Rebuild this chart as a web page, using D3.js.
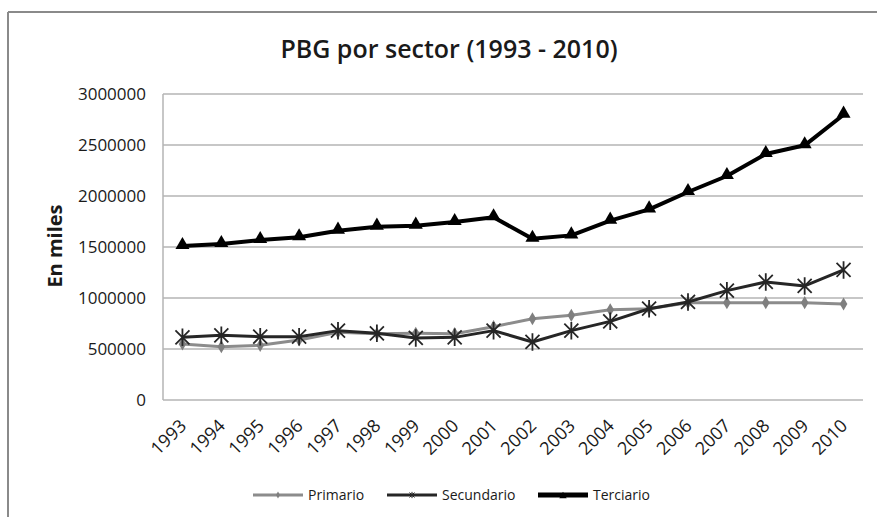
<!DOCTYPE html>
<html>
<head>
<meta charset="utf-8">
<script src="https://cdn.jsdelivr.net/npm/d3@7"></script>
<style>
  html, body { margin: 0; padding: 0; background: #fff; }
  svg { display: block; }
  text { font-family: "Open Sans", "Noto Sans", sans-serif; fill: #1a1a1a; }
</style>
</head>
<body>
<svg id="chart" width="877" height="517"></svg>
<script>
const years = ["1993","1994","1995","1996","1997","1998","1999","2000","2001","2002","2003","2004","2005","2006","2007","2008","2009","2010"];
const primario   = [549000, 523000, 536000, 588000, 665000, 650000, 654000, 650000, 719000, 797000, 830000, 885000, 895000, 954000, 954000, 954000, 954000, 941000];
const secundario = [614000, 634000, 621000, 621000, 680000, 654000, 608000, 614000, 680000, 569000, 680000, 771000, 895000, 961000, 1072000, 1157000, 1118000, 1275000];
const terciario  = [1510000, 1529000, 1568000, 1595000, 1660000, 1699000, 1709000, 1745000, 1791000, 1581000, 1614000, 1758000, 1869000, 2039000, 2196000, 2412000, 2497000, 2797000];
const yTicks = [0, 500000, 1000000, 1500000, 2000000, 2500000, 3000000];
const seriesNames = ["Primario", "Secundario", "Terciario"];
const title = "PBG por sector (1993 - 2010)";
const yTitle = "En miles";

const svg = d3.select("#chart");

// outer frame (top and left edges visible)
svg.append("line").attr("x1", 8).attr("x2", 877).attr("y1", 12).attr("y2", 12)
  .attr("stroke", "#8a8a8a").attr("stroke-width", 2);
svg.append("line").attr("x1", 8).attr("x2", 8).attr("y1", 12).attr("y2", 517)
  .attr("stroke", "#8a8a8a").attr("stroke-width", 2);

const pLeft = 163, pRight = 863, pTop = 94, pBottom = 400;
const x = d3.scaleBand().domain(years).range([pLeft, pRight]).padding(0);
const y = d3.scaleLinear().domain([0, 3000000]).range([pBottom, pTop]);
const cx = d => x(d) + x.bandwidth() / 2;

// gridlines
svg.append("g").selectAll("line").data(yTicks).join("line")
  .attr("x1", pLeft).attr("x2", pRight)
  .attr("y1", d => y(d)).attr("y2", d => y(d))
  .attr("stroke", "#b4b4b4").attr("stroke-width", 1.5);

// y axis line
svg.append("line").attr("x1", pLeft).attr("x2", pLeft).attr("y1", pTop).attr("y2", pBottom)
  .attr("stroke", "#b4b4b4").attr("stroke-width", 1.5);

// y axis labels
const yAxis = d3.axisLeft(y).tickValues(yTicks).tickSize(0).tickPadding(17).tickFormat(d3.format("d"));
const ya = svg.append("g").attr("transform", `translate(${pLeft},0)`).call(yAxis);
ya.select(".domain").remove();
ya.selectAll("text").attr("font-size", 17).attr("font-family", "Open Sans").attr("fill", "#1a1a1a");

// x axis labels
const xAxis = d3.axisBottom(x).tickSize(0).tickPadding(0);
const xa = svg.append("g").attr("transform", `translate(0,${pBottom})`).call(xAxis);
xa.select(".domain").remove();
xa.selectAll("text")
  .attr("font-size", 18).attr("font-family", "Open Sans").attr("fill", "#1a1a1a")
  .attr("text-anchor", "end")
  .attr("dy", "0")
  .attr("y", 0)
  .attr("transform", "translate(5,27) rotate(-45)");

// title
svg.append("text").attr("x", 449).attr("y", 58).attr("text-anchor", "middle")
  .attr("font-size", 25).attr("font-weight", 600).text(title);

// y title
svg.append("text").attr("transform", "translate(62,246) rotate(-90)")
  .attr("text-anchor", "middle").attr("font-size", 20).attr("font-weight", 700).text(yTitle);

const line = d3.line().x((d, i) => cx(years[i])).y(d => y(d));

const starPath = r => `M${-r},${-r}L${r},${r}M${-r},${r}L${r},${-r}M0,${-r * 1.25}L0,${r * 1.25}`;

// Primario
svg.append("path").datum(primario).attr("d", line).attr("fill", "none")
  .attr("stroke", "#8c8c8c").attr("stroke-width", 3).attr("stroke-linejoin", "round");
svg.append("g").selectAll("path").data(primario).join("path")
  .attr("transform", (d, i) => `translate(${cx(years[i])},${y(d)})`)
  .attr("d", d3.symbol(d3.symbolDiamond, 50)()).attr("fill", "#7f7f7f");

// Secundario
svg.append("path").datum(secundario).attr("d", line).attr("fill", "none")
  .attr("stroke", "#262626").attr("stroke-width", 3).attr("stroke-linejoin", "round");
svg.append("g").selectAll("path").data(secundario).join("path")
  .attr("transform", (d, i) => `translate(${cx(years[i])},${y(d)})`)
  .attr("d", starPath(7)).attr("fill", "none").attr("stroke", "#262626").attr("stroke-width", 1.8);

// Terciario
svg.append("path").datum(terciario).attr("d", line).attr("fill", "none")
  .attr("stroke", "#000").attr("stroke-width", 4).attr("stroke-linejoin", "round");
svg.append("g").selectAll("path").data(terciario).join("path")
  .attr("transform", (d, i) => `translate(${cx(years[i])},${y(d) - 1})`)
  .attr("d", d3.symbol(d3.symbolTriangle, 85)()).attr("fill", "#000");

// legend
const legendItems = [
  {name: seriesNames[0], x1: 253, color: "#8c8c8c", w: 3},
  {name: seriesNames[1], x1: 387, color: "#262626", w: 3},
  {name: seriesNames[2], x1: 538, color: "#000", w: 5}
];
const ly = 495;
const lg = svg.append("g");
legendItems.forEach((it, k) => {
  lg.append("line").attr("x1", it.x1).attr("x2", it.x1 + 50).attr("y1", ly).attr("y2", ly)
    .attr("stroke", it.color).attr("stroke-width", it.w);
  const mx = it.x1 + 25;
  if (k === 0) {
    lg.append("path").attr("transform", `translate(${mx},${ly})`)
      .attr("d", d3.symbol(d3.symbolDiamond, 14)()).attr("fill", "#7f7f7f");
  } else if (k === 1) {
    lg.append("path").attr("transform", `translate(${mx},${ly})`)
      .attr("d", starPath(2.5)).attr("stroke", "#262626").attr("stroke-width", 1).attr("fill", "none");
  } else {
    lg.append("path").attr("transform", `translate(${mx},${ly + 1})`)
      .attr("d", d3.symbol(d3.symbolTriangle, 24)()).attr("fill", "#000");
  }
  lg.append("text").attr("x", it.x1 + 55).attr("y", ly).attr("dy", "0.35em")
    .attr("font-size", 14).attr("fill", "#1a1a1a").text(it.name);
});
</script>
</body>
</html>
